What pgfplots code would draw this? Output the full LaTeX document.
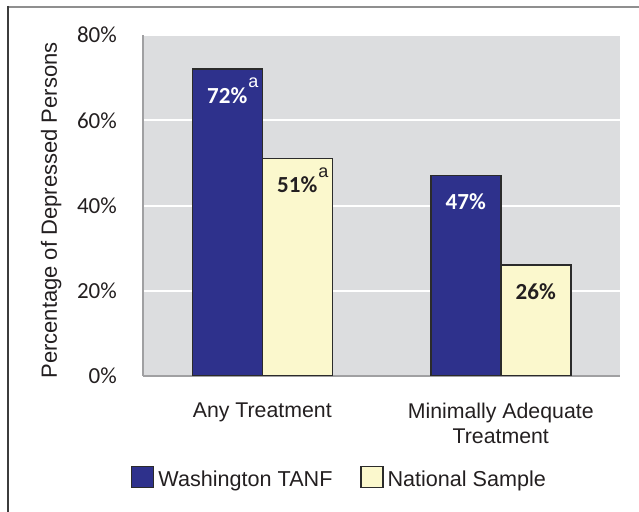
\documentclass[border=0pt]{standalone}
\usepackage{pgfplots}
\pgfplotsset{compat=1.18}
\usepackage{fontspec}
\setmainfont{Liberation Sans}
\newfontfamily\calfont{Carlito}
\definecolor{bgc}{RGB}{220,221,223}
\definecolor{tanf}{RGB}{46,49,140}
\definecolor{nat}{RGB}{251,248,205}
\definecolor{edge}{RGB}{43,43,43}
\definecolor{txt}{RGB}{35,31,32}
\definecolor{axc}{RGB}{160,160,162}
\definecolor{frtop}{RGB}{143,143,143}
\definecolor{frleft}{RGB}{60,60,60}
\newcommand\supa{\rlap{\smash{\raisebox{15.5bp}{\hspace{1bp}\normalfont\fontsize{18bp}{18bp}\selectfont a}}}}
\begin{document}
\begin{tikzpicture}
\useasboundingbox (0,0) rectangle (639bp,512bp);
\draw[frtop, line width=2bp] (8bp,505bp) -- (639bp,505bp);
\draw[frleft, line width=1.6bp] (8.2bp,506bp) -- (8.2bp,0bp);
\begin{axis}[
 at={(143bp,136bp)}, anchor=south west,
 width=477bp, height=341bp, scale only axis,
 ybar=0pt, bar width=70bp,
 xmin=-0.5, xmax=1.5, ymin=0, ymax=80,
 xtick={0,1}, xticklabels={Any Treatment,{Minimally Adequate\\Treatment}},
 ytick={0,20,40,60,80}, yticklabels={0\%,20\%,40\%,60\%,80\%},
 major tick length=0pt,
 axis x line*=bottom, axis y line*=left,
 axis line style={draw=axc, line width=1.5bp},
 axis background/.style={fill=bgc},
 ymajorgrids, grid style={white, line width=2bp},
 xticklabel style={anchor=north, inner sep=0pt, yshift=-27bp, align=center, font=\fontsize{21.3bp}{25bp}\selectfont, text=txt},
 yticklabel style={anchor=east, inner sep=0pt, xshift=-26bp, font=\calfont\fontsize{23bp}{23bp}\selectfont, text=txt},
 ylabel={Percentage of Depressed Persons},
 ylabel style={at={(axis description cs:-0.1803,0.4853)}, anchor=base, inner sep=0pt, font=\fontsize{22bp}{25bp}\selectfont, text=txt},
 legend columns=2,
 legend style={at={(-0.0252,-0.2960)}, anchor=west, draw=none, fill=none, inner sep=0pt, outer sep=0pt,
   font=\fontsize{21.6bp}{25bp}\selectfont, text=txt,
   cells={anchor=base west},
   nodes={inner sep=0pt},
   /tikz/every even column/.append style={column sep=27.5bp}},
 every axis plot post/.append style={legend image code/.code={\draw[##1, line width=1.5bp] (0bp,-1bp) rectangle (22bp,20bp); \path (26bp,0bp);}},
 nodes near coords, point meta=explicit symbolic,
 every node near coord/.append style={anchor=base, yshift=-34bp, inner sep=0pt, font=\calfont\bfseries\fontsize{23bp}{23bp}\selectfont},
]
\addplot[fill=tanf, draw=edge, line width=1.5bp, every node near coord/.append style={text=white}]
  coordinates {(0,72) [72\%\supa] (1,47) [47\%]};
\addplot[fill=nat, draw=edge, line width=1.5bp, every node near coord/.append style={text=txt}]
  coordinates {(0,51) [51\%\supa] (1,26) [26\%]};
\legend{Washington TANF, National Sample}
\end{axis}
\end{tikzpicture}
\end{document}
